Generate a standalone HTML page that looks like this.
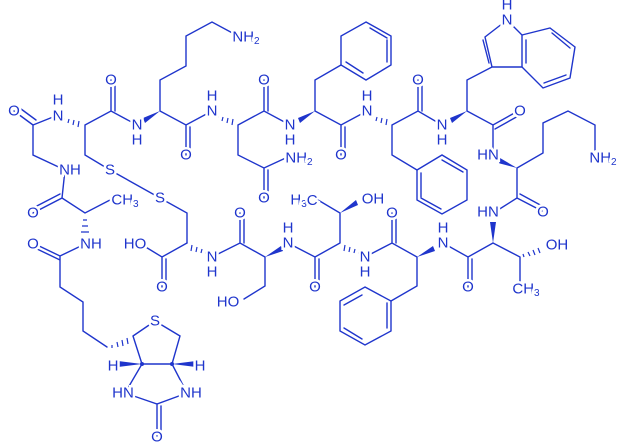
<!DOCTYPE html>
<html><head><meta charset="utf-8"><style>
html,body{margin:0;padding:0;background:#fff;}
svg{display:block;}
text{font-family:"Liberation Sans",sans-serif;font-size:15px;fill:#1f35cc;text-anchor:middle;dominant-baseline:central;stroke:#fff;stroke-width:5px;paint-order:stroke;}
.s{font-size:10px;}
</style></head><body>
<svg width="620" height="448" viewBox="0 0 620 448" xmlns="http://www.w3.org/2000/svg">
<g stroke="#1f35cc" stroke-width="1.4" fill="none" stroke-linecap="round">
<path d="M14,111 L33,125 M17,106 L36,120 M33,125 L58,115 M33,125 L33,155 L65,170"/>
<path d="M85,125 L111,111 L137,125 M111,111 L111,80 M115,111 L115,82 M85,125 L85,155 L110,170 L160,198 L187,213 L187,243"/>
<path d="M160,111 L160,80 L186,66 L186,36 L212,22 L238,36 M160,111 L186,125 L212,111 M186,125 L186,155 M190,127 L190,155"/>
<path d="M238,125 L264,111 L290,125 M264,111 L264,80 M268,111 L268,82 M238,125 L238,155 L264,168 L290,156 M264,168 L264,198 M268,170 L268,198"/>
<path d="M315,111 L315,80 L341,65 M315,111 L341,125 L367,111 M341,125 L341,155 M345,127 L345,155"/>
<path d="M366,22 L391,36 L391,65 L366,80 L341,65 L341,36 Z M370,28 L387,38 M387,40 L387,62 M346,62 L363,73"/>
<path d="M392,125 L418,111 L442,125 M418,111 L418,80 M422,111 L422,82 M392,125 L392,155 L417,170"/>
<path d="M417,170 L442,155 L467,170 L467,200 L442,214 L417,200 Z M442,160 L463,172 M421,198 L441,209 M421,173 L421,197"/>
<path d="M467,111 L467,80 L492,67 L485,37 L507,20 L522,35 L522,67 L492,67 M489,63 L483,40 M467,111 L493,125 L518,111 M495,129 L520,115 M493,125 L493,150"/>
<path d="M522,35 L550,28 L575,47 L570,78 L543,88 L522,67 M552,33 L570,48 M566,75 L544,83 M526,40 L526,63"/>
<path d="M517,168 L543,153 L543,123 L568,111 L595,125 L595,150 M517,168 L517,198 L498,210 M517,198 L542,211 M520,194 L544,207"/>
<path d="M493,243 L520,257 L520,285 M493,243 L468,257 L443,243 M468,257 L468,287 M472,259 L472,287"/>
<path d="M417,257 L392,243 L365,257 M392,243 L392,213 M396,243 L396,215 M417,257 L417,286 L391,301"/>
<path d="M365,287 L391,301 L391,331 L365,345 L340,331 L340,301 Z M387,303 L387,328 M344,305 L362,295 M344,328 L362,339"/>
<path d="M340,243 L340,213 L318,200 M340,243 L315,257 L288,243 M315,257 L315,287 M319,259 L319,287"/>
<path d="M265,257 L265,286 L244,299 M265,257 L240,243 L212,257 M240,243 L240,213 M244,243 L244,215"/>
<path d="M187,243 L162,257 L144,246 M162,257 L162,287 M166,259 L166,287"/>
<path d="M65,170 L62,198 L33,213 M60,194 L31,209 M62,198 L85,213 L110,200"/>
<path d="M85,244 L60,256 L35,244 M60,260 L35,248 M60,256 L60,287 L83,302 L83,331 L107,347 M133,336 L155,321 L180,336 L172,364 L142,364 L133,336 M142,364 L125,393 L157,404 L187,393 L172,364 M157,404 L157,436 M161,406 L161,436"/>
</g>
<g fill="#1f35cc" stroke="none">
<polygon points="160,111 143,118 145,123"/>
<polygon points="315,111 298,118 300,123"/>
<polygon points="467,111 450,118 452,123"/>
<polygon points="517,168 500,158 498,163"/>
<polygon points="493,243 490,222 496,222"/>
<polygon points="417,257 433,246 435,251"/>
<polygon points="340,213 356,200 358,205"/>
<polygon points="265,257 281,246 283,251"/>
<polygon points="142,364 118,361 118,367"/>
<polygon points="172,364 196,361 196,367"/>
<circle cx="142" cy="364" r="2"/><circle cx="172" cy="364" r="2"/>
</g>
<g stroke="#1f35cc" stroke-width="1.2">
<path d="M64,118 L64,120 M69,119 L68,123 M74,120 L73,125 M79,121 L78,127"/>
<path d="M218,116 L218,118 M223,117 L222,121 M228,118 L227,123 M233,119 L232,125"/>
<path d="M372,116 L372,118 M377,117 L376,121 M382,118 L381,123 M387,119 L386,125"/>
<path d="M359,254 L359,252 M354,253 L355,249 M349,252 L350,247 M344,251 L345,245"/>
<path d="M206,254 L206,252 M201,253 L202,249 M196,252 L197,247 M191,251 L192,245"/>
<path d="M523,254 L524,257 M528,252 L530,256 M533,250 L535,255 M538,248 L540,253"/>
<path d="M83,220 L87,220 M82,226 L88,226 M81,232 L89,232"/>
<path d="M112,345 L112,348 M117,342 L118,347 M122,340 L123,346 M127,338 L128,344"/>
</g>
<text x="14" y="111">O</text>
<text x="58" y="116">N</text><text x="58" y="100">H</text>
<text x="70" y="170">NH</text>
<text x="111" y="80">O</text>
<text x="137" y="125">N</text><text x="137" y="140">H</text>
<text x="110" y="170">S</text>
<text x="160" y="198">S</text>
<text x="186" y="155">O</text>
<text x="212" y="111">N</text><text x="212" y="96">H</text>
<text x="246" y="37">NH<tspan class="s" dy="4">2</tspan></text>
<text x="264" y="80">O</text>
<text x="290" y="125">N</text><text x="290" y="140">H</text>
<text x="264" y="198">O</text>
<text x="299" y="158">NH<tspan class="s" dy="4">2</tspan></text>
<text x="341" y="155">O</text>
<text x="367" y="111">N</text><text x="367" y="96">H</text>
<text x="418" y="80">O</text>
<text x="442" y="125">N</text><text x="442" y="140">H</text>
<text x="507" y="20">N</text><text x="507" y="5">H</text>
<text x="520" y="111">O</text>
<text x="488" y="155">HN</text>
<text x="603" y="158">NH<tspan class="s" dy="4">2</tspan></text>
<text x="543" y="212">O</text>
<text x="488" y="212">HN</text>
<text x="557" y="245">OH</text>
<text x="526" y="289">CH<tspan class="s" dy="4">3</tspan></text>
<text x="468" y="287">O</text>
<text x="443" y="243">N</text><text x="443" y="228">H</text>
<text x="392" y="213">O</text>
<text x="365" y="257">N</text><text x="365" y="272">H</text>
<text x="373" y="199">OH</text>
<text x="304" y="200">H<tspan class="s" dy="4">3</tspan><tspan dy="-4">C</tspan></text>
<text x="315" y="287">O</text>
<text x="288" y="243">N</text><text x="288" y="228">H</text>
<text x="240" y="213">O</text>
<text x="228" y="302">HO</text>
<text x="212" y="257">N</text><text x="212" y="272">H</text>
<text x="162" y="287">O</text>
<text x="135" y="244">HO</text>
<text x="33" y="213">O</text>
<text x="125" y="200">CH<tspan class="s" dy="4">3</tspan></text>
<text x="91" y="244">NH</text>
<text x="33" y="244">O</text>
<text x="155" y="321">S</text>
<text x="113" y="366">H</text>
<text x="200" y="366">H</text>
<text x="123" y="393">HN</text>
<text x="191" y="393">NH</text>
<text x="157" y="437">O</text>
</svg>
</body></html>
